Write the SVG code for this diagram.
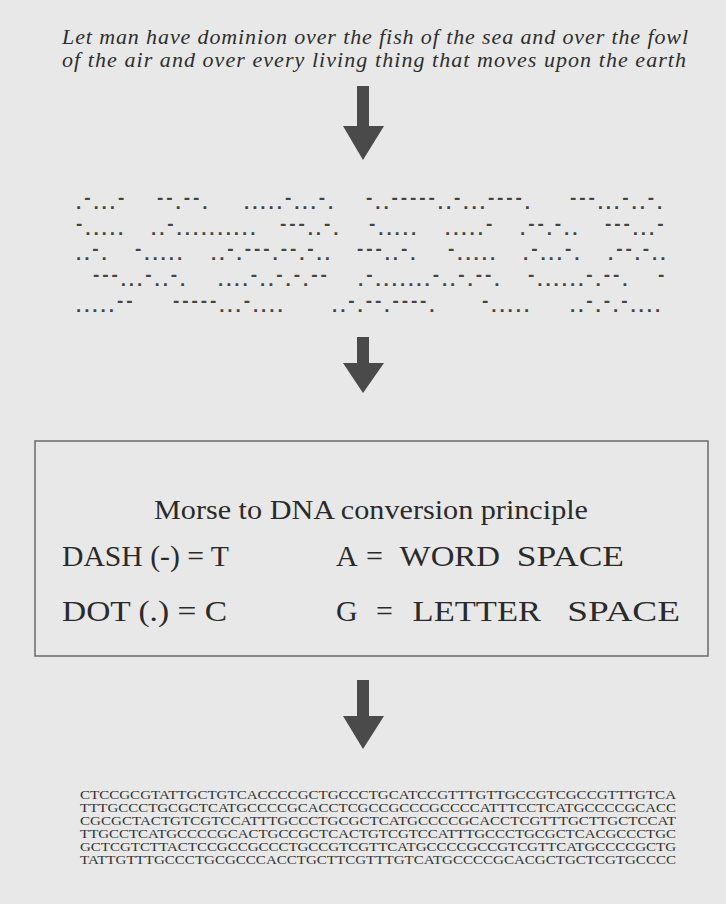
<svg xmlns="http://www.w3.org/2000/svg" width="726" height="904" viewBox="0 0 726 904">
<style>
.bg{fill:#e8e8e8}
.quote{font-family:"Liberation Serif",serif;font-style:italic;font-size:22px;fill:#2e2e2e}
.morse{font-family:"Liberation Sans",sans-serif;font-weight:bold;font-size:19px;letter-spacing:2.9px;fill:#444}
.d{baseline-shift:5.5px}
.box{fill:none;stroke:#6a6a6a;stroke-width:1.5}
.rule{font-family:"Liberation Serif",serif;font-size:30px;fill:#2a2a2a}
.title{font-family:"Liberation Serif",serif;font-size:27px;fill:#2a2a2a}
.dna{font-family:"Liberation Serif",serif;font-size:12.5px;fill:#333}
.arrow{fill:#4a4a4a}
</style>
<rect class="bg" x="0" y="0" width="726" height="904"/>

<g id="quote">
<text class="quote" x="62" y="44" textLength="626" lengthAdjust="spacing">Let man have dominion over the fish of the sea and over the fowl</text>
<text class="quote" x="62" y="67" textLength="624" lengthAdjust="spacing">of the air and over every living thing that moves upon the earth</text>
</g>

<g id="morse" class="morse">
<text x="76" y="209">.<tspan class="d">-</tspan>...<tspan class="d">-</tspan></text>
<text x="157" y="209"><tspan class="d">--</tspan>.<tspan class="d">--</tspan>.</text>
<text x="244" y="209">.....<tspan class="d">-</tspan>...<tspan class="d">-</tspan>.</text>
<text x="366" y="209"><tspan class="d">-</tspan>..<tspan class="d">-----</tspan>..<tspan class="d">-</tspan>...<tspan class="d">----</tspan>.</text>
<text x="570" y="209"><tspan class="d">---</tspan>...<tspan class="d">-</tspan>..<tspan class="d">-</tspan>.</text>

<text x="76" y="235"><tspan class="d">-</tspan>.....</text>
<text x="151" y="235">..<tspan class="d">-</tspan>..........</text>
<text x="280" y="235"><tspan class="d">---</tspan>..<tspan class="d">-</tspan>.</text>
<text x="369" y="235"><tspan class="d">-</tspan>.....</text>
<text x="445" y="235">.....<tspan class="d">-</tspan></text>
<text x="520" y="235">.<tspan class="d">--</tspan>.<tspan class="d">-</tspan>..</text>
<text x="605" y="235"><tspan class="d">---</tspan>...<tspan class="d">-</tspan></text>

<text x="76" y="260">..<tspan class="d">-</tspan>.</text>
<text x="135" y="260"><tspan class="d">-</tspan>.....</text>
<text x="211" y="260">..<tspan class="d">-</tspan>.<tspan class="d">---</tspan>.<tspan class="d">--</tspan>.<tspan class="d">-</tspan>..</text>
<text x="357" y="260"><tspan class="d">---</tspan>..<tspan class="d">-</tspan>.</text>
<text x="448" y="260"><tspan class="d">-</tspan>.....</text>
<text x="523" y="260">.<tspan class="d">-</tspan>...<tspan class="d">-</tspan>.</text>
<text x="608" y="260">.<tspan class="d">--</tspan>.<tspan class="d">-</tspan>..</text>

<text x="93" y="286"><tspan class="d">---</tspan>...<tspan class="d">-</tspan>..<tspan class="d">-</tspan>.</text>
<text x="218" y="286">....<tspan class="d">-</tspan>..<tspan class="d">-</tspan>.<tspan class="d">-</tspan>.<tspan class="d">--</tspan></text>
<text x="358" y="286">.<tspan class="d">-</tspan>.......<tspan class="d">-</tspan>..<tspan class="d">-</tspan>.<tspan class="d">--</tspan>.</text>
<text x="528" y="286"><tspan class="d">-</tspan>......<tspan class="d">-</tspan>.<tspan class="d">--</tspan>.</text>
<text x="658" y="286"><tspan class="d">-</tspan></text>

<text x="76" y="312">.....<tspan class="d">--</tspan></text>
<text x="173" y="312"><tspan class="d">-----</tspan>...<tspan class="d">-</tspan>....</text>
<text x="332" y="312">..<tspan class="d">-</tspan>.<tspan class="d">--</tspan>.<tspan class="d">----</tspan>.</text>
<text x="482" y="312"><tspan class="d">-</tspan>.....</text>
<text x="570" y="312">..<tspan class="d">-</tspan>.<tspan class="d">-</tspan>.<tspan class="d">-</tspan>....</text>
</g>

<g id="rules">
<rect class="box" x="35" y="441" width="673" height="215"/>
<text class="title" x="371" y="519" text-anchor="middle" textLength="434" lengthAdjust="spacingAndGlyphs">Morse to DNA conversion principle</text>
<text class="rule" x="62" y="566" textLength="167" lengthAdjust="spacingAndGlyphs">DASH (-) = T</text>
<text class="rule" x="62" y="621" textLength="165" lengthAdjust="spacingAndGlyphs">DOT (.) = C</text>
<text class="rule" y="566"><tspan x="336">A</tspan><tspan x="366">=</tspan><tspan x="392" textLength="108" lengthAdjust="spacingAndGlyphs"> WORD</tspan><tspan x="508" textLength="116" lengthAdjust="spacingAndGlyphs"> SPACE</tspan></text>
<text class="rule" y="621"><tspan x="336">G</tspan><tspan x="376">=</tspan><tspan x="404" textLength="137" lengthAdjust="spacingAndGlyphs"> LETTER</tspan><tspan x="558" textLength="122" lengthAdjust="spacingAndGlyphs"> SPACE</tspan></text>
</g>

<g id="dna" class="dna">
<text x="80" y="799" textLength="596" lengthAdjust="spacingAndGlyphs">CTCCGCGTATTGCTGTCACCCCGCTGCCCTGCATCCGTTTGTTGCCGTCGCCGTTTGTCA</text>
<text x="80" y="812" textLength="596" lengthAdjust="spacingAndGlyphs">TTTGCCCTGCGCTCATGCCCCGCACCTCGCCGCCCGCCCCATTTCCTCATGCCCCGCACC</text>
<text x="80" y="825" textLength="596" lengthAdjust="spacingAndGlyphs">CGCGCTACTGTCGTCCATTTGCCCTGCGCTCATGCCCCGCACCTCGTTTGCTTGCTCCAT</text>
<text x="80" y="838" textLength="596" lengthAdjust="spacingAndGlyphs">TTGCCTCATGCCCCGCACTGCCGCTCACTGTCGTCCATTTGCCCTGCGCTCACGCCCTGC</text>
<text x="80" y="851" textLength="596" lengthAdjust="spacingAndGlyphs">GCTCGTCTTACTCCGCCGCCCTGCCGTCGTTCATGCCCCGCCGTCGTTCATGCCCCGCTG</text>
<text x="80" y="864" textLength="596" lengthAdjust="spacingAndGlyphs">TATTGTTTGCCCTGCGCCCACCTGCTTCGTTTGTCATGCCCCGCACGCTGCTCGTGCCCC</text>
</g>

<g id="connectors" class="arrow">
<path d="M357 86 H369 V126 H384 L363 160 L343 126 H357 Z"/>
<path d="M357 337 H369 V363 H384 L363 393 L343 363 H357 Z"/>
<path d="M357 680 H369 V716 H384 L363 749 L343 716 H357 Z"/>
</g>
</svg>
